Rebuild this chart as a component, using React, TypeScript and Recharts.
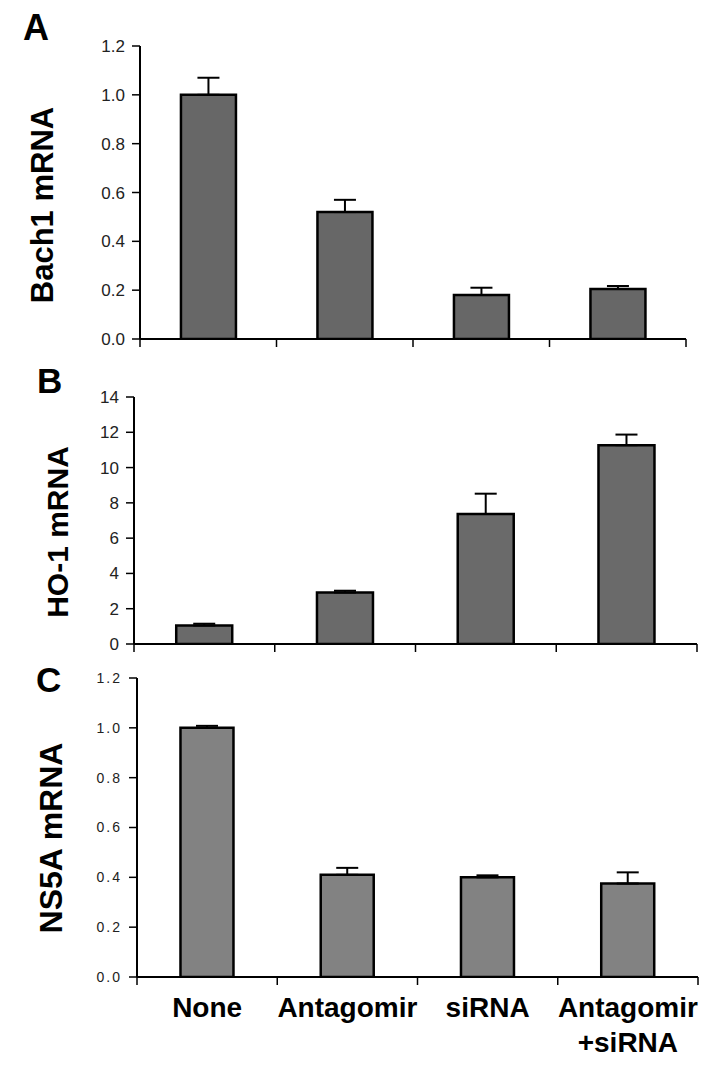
import { Bar, BarChart, ErrorBar, XAxis, YAxis } from "recharts"

const categories = ["None", "Antagomir", "siRNA", "Antagomir\n+siRNA"]

const bach1 = [1.0, 0.52, 0.18, 0.205]
const bach1Err = [0.07, 0.05, 0.03, 0.012]

const ho1 = [1.05, 2.92, 7.37, 11.27]
const ho1Err = [0.1, 0.1, 1.15, 0.6]

const ns5a = [1.0, 0.41, 0.4, 0.375]
const ns5aErr = [0.008, 0.028, 0.008, 0.045]

const ticksRel = [0, 0.2, 0.4, 0.6, 0.8, 1.0, 1.2]
const ticksHo = [0, 2, 4, 6, 8, 10, 12, 14]

const FONT = "'Liberation Sans', Arial, sans-serif"

// category tick: a short mark at each band edge, plus the name if wanted
function CatTick({ x, y, payload, width, index, showNames }: any) {
  const half = payload?.offset ?? width / categories.length / 2
  const lines = String(payload.value).split("\n")
  const last = index === categories.length - 1
  return (
    <g>
      <line x1={x - half} x2={x - half} y1={y} y2={y + 8} stroke="#000" strokeWidth={1.5} />
      {last && <line x1={x + half} x2={x + half} y1={y} y2={y + 8} stroke="#000" strokeWidth={1.5} />}
      {showNames && (
        <text x={x} y={y} textAnchor="middle" fontFamily={FONT} fontWeight={700} fontSize={28} fill="#000">
          {lines.map((l, i) => (
            <tspan key={i} x={x} dy={i === 0 ? 40 : 35}>{l}</tspan>
          ))}
        </text>
      )}
    </g>
  )
}

type PanelProps = {
  top: number
  height: number
  margin: { top: number; right: number; left: number; bottom: number }
  values: number[]
  errs: number[]
  domain: [number, number]
  ticks: number[]
  fmt: (v: number) => string
  fill: string
  tickFont: any
  barGap: string
  axisHeight: number
  showNames?: boolean
}

function Panel(p: PanelProps) {
  const data = categories.map((name, i) => ({ name, value: p.values[i], err: [0, p.errs[i]] }))
  return (
    <div style={{ position: "absolute", left: 0, top: p.top, width: 715, height: p.height }}>
      <BarChart width={715} height={p.height} data={data} margin={p.margin} barCategoryGap={p.barGap}>
        <YAxis
          type="number"
          domain={p.domain}
          ticks={p.ticks}
          interval={0}
          allowDataOverflow
          tickFormatter={p.fmt}
          width={60}
          axisLine={{ stroke: "#000", strokeWidth: 2 }}
          tickLine={{ stroke: "#000", strokeWidth: 1.5 }}
          tickSize={8}
          tickMargin={7}
          tick={p.tickFont}
        />
        <XAxis
          dataKey="name"
          height={p.axisHeight}
          axisLine={{ stroke: "#000", strokeWidth: 2 }}
          tickLine={false}
          tickSize={0}
          tickMargin={0}
          interval={0}
          tick={(props: any) => <CatTick {...props} showNames={p.showNames} />}
        />
        <Bar dataKey="value" fill={p.fill} stroke="#000" strokeWidth={2.5} isAnimationActive={false}>
          <ErrorBar dataKey="err" direction="y" width={11} stroke="#000" strokeWidth={2} isAnimationActive={false} />
        </Bar>
      </BarChart>
    </div>
  )
}

const bigTick = { fontSize: 17, fill: "#222", fontFamily: FONT }
const smallTick = { fontSize: 14, fill: "#222", fontFamily: FONT, letterSpacing: 2 }

export default function App() {
  return (
    <div style={{ position: "absolute", left: 0, top: 0, width: 715, height: 1068, background: "#fff" }}>
      <Panel
        top={0}
        height={360}
        margin={{ top: 46, right: 29, left: 80, bottom: 1 }}
        values={bach1}
        errs={bach1Err}
        domain={[0, 1.2]}
        ticks={ticksRel}
        fmt={(v) => v.toFixed(1)}
        fill="#676767"
        tickFont={bigTick}
        barGap="30%"
        axisHeight={20}
      />
      <Panel
        top={360}
        height={310}
        margin={{ top: 37, right: 18, left: 74, bottom: 6 }}
        values={ho1}
        errs={ho1Err}
        domain={[0, 14]}
        ticks={ticksHo}
        fmt={(v) => String(v)}
        fill="#6a6a6a"
        tickFont={bigTick}
        barGap="30%"
        axisHeight={20}
      />
      <Panel
        top={670}
        height={398}
        margin={{ top: 8, right: 17, left: 77, bottom: 0 }}
        values={ns5a}
        errs={ns5aErr}
        domain={[0, 1.2]}
        ticks={ticksRel}
        fmt={(v) => v.toFixed(1)}
        fill="#828282"
        tickFont={smallTick}
        barGap="31%"
        axisHeight={91}
        showNames
      />
      <svg
        width={715}
        height={1068}
        style={{ position: "absolute", left: 0, top: 0, pointerEvents: "none" }}
      >
        <g fontFamily={FONT} fontWeight={700} fill="#000">
          <text x={23} y={40} fontSize={36}>A</text>
          <text x={37} y={393} fontSize={35}>B</text>
          <text x={36} y={692} fontSize={35}>C</text>
          <text transform="translate(53,205) rotate(-90)" textAnchor="middle" fontSize={31}>Bach1 mRNA</text>
          <text transform="translate(68,532) rotate(-90)" textAnchor="middle" fontSize={30}>HO-1 mRNA</text>
          <text transform="translate(62,838) rotate(-90)" textAnchor="middle" fontSize={32}>NS5A mRNA</text>
        </g>
      </svg>
    </div>
  )
}
